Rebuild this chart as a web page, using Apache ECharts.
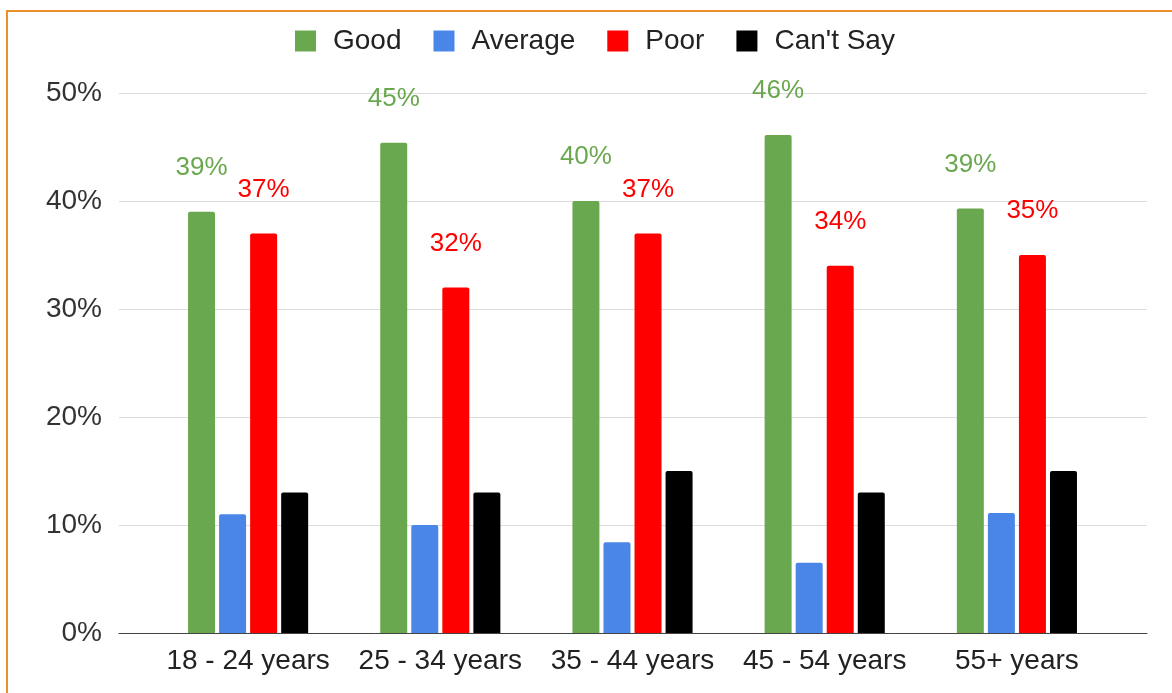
<!DOCTYPE html>
<html>
<head>
<meta charset="utf-8">
<script src="https://cdn.jsdelivr.net/npm/echarts@6/dist/echarts.min.js"></script>
<style>
  body { margin: 0; background: #fff; }
  #main { width: 1172px; height: 693px; }
  .frame {
    position: absolute; left: 6px; top: 10px; width: 1200px; height: 720px;
    border-left: 2px solid #e8912d; border-top: 2px solid #e8912d;
    pointer-events: none;
  }
</style>
</head>
<body>
<div id="main"></div>
<div class="frame"></div>
<script>
  var ageGroups = ['18 - 24 years', '25 - 34 years', '35 - 44 years', '45 - 54 years', '55+ years'];
  var good = [39, 45.4, 40, 46.1, 39.3];
  var average = [11, 10, 8.4, 6.5, 11.1];
  var poor = [37, 32, 37, 34, 35];
  var cantSay = [13, 13, 15, 13, 15];

  var font = 'Liberation Sans, Arial, sans-serif';
  var myChart = echarts.init(document.getElementById('main'));

  function bar(name, data, color, showLabel) {
    return {
      name: name,
      type: 'bar',
      xAxisIndex: 1,
      yAxisIndex: 1,
      barWidth: 27,
      barGap: '15%',
      data: data,
      itemStyle: { color: color, borderRadius: [2, 2, 0, 0] },
      label: {
        show: showLabel,
        position: 'top',
        distance: 31,
        color: color,
        fontFamily: font,
        fontSize: 26,
        formatter: function (p) { return Math.round(p.value) + '%'; }
      }
    };
  }

  var option = {
    animation: false,
    legend: {
      top: 22,
      left: 290,
      itemWidth: 21,
      itemHeight: 21,
      itemGap: 32,
      icon: 'rect',
      textStyle: { fontFamily: font, fontSize: 28, color: '#222', padding: [0, 0, 0, 12] },
      data: ['Good', 'Average', 'Poor', "Can't Say"]
    },
    grid: [
      { left: 119, right: 25, top: 93, bottom: 60 },
      { left: 152, right: 59, top: 93, bottom: 60 }
    ],
    xAxis: [
      {
        type: 'value', gridIndex: 0, min: 0, max: 1,
        axisLine: { show: true, lineStyle: { color: '#444', width: 1 } },
        axisTick: { show: false }, axisLabel: { show: false }, splitLine: { show: false }
      },
      {
        type: 'category', gridIndex: 1, data: ageGroups,
        axisLine: { show: false }, axisTick: { show: false },
        axisLabel: { interval: 0, hideOverlap: false, fontFamily: font, fontSize: 28, color: '#222', margin: 14 }
      }
    ],
    yAxis: [
      {
        type: 'value', gridIndex: 0, min: 0, max: 50, interval: 10,
        axisLine: { show: false }, axisTick: { show: false },
        axisLabel: { formatter: '{value}%', fontFamily: font, fontSize: 28, color: '#333', margin: 17 },
        splitLine: { lineStyle: { color: '#dcdcdc', width: 1 } }
      },
      {
        type: 'value', gridIndex: 1, min: 0, max: 50, interval: 10,
        axisLine: { show: false }, axisTick: { show: false },
        axisLabel: { show: false }, splitLine: { show: false }
      }
    ],
    series: [
      bar('Good', good, '#6aa84f', true),
      bar('Average', average, '#4a86e8', false),
      bar('Poor', poor, '#ff0000', true),
      bar("Can't Say", cantSay, '#000000', false)
    ]
  };

  myChart.setOption(option);
</script>
</body>
</html>
